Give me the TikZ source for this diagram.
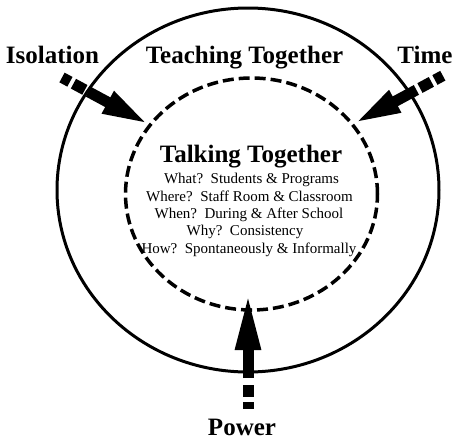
\documentclass[tikz,border=0pt]{standalone}
\usepackage{fontspec}
\setmainfont{Liberation Serif}
\usetikzlibrary{arrows.meta,calc}
\begin{document}
\begin{tikzpicture}[x=1pt,y=-1pt,
  lbl/.style={font=\fontsize{25}{30}\selectfont\bfseries, anchor=base, inner sep=0pt},
  info/.style={font=\fontsize{15}{18}\selectfont, anchor=base, inner sep=0pt},
  sideshaft/.style={line width=11pt, -{Triangle[length=48pt,width=22pt]}},
  botshaft/.style={line width=11pt, -{Triangle[length=58pt,width=23pt]}},
  sidetail/.style={line width=11pt, dash pattern=on 0pt off 4pt on 13pt off 4pt on 9pt off 60pt},
  bottail/.style={line width=11pt, dash pattern=on 0pt off 7pt on 12pt off 5pt on 7pt off 60pt},
  outerring/.style={line width=3pt},
  innerring/.style={line width=3.5pt, dash pattern=on 11pt off 5pt},
]
\useasboundingbox (0,0) rectangle (456,440);
% circles
\draw[outerring] (248,190) ellipse [x radius=191pt, y radius=182pt];
\draw[innerring] (251.5,194) ellipse [x radius=126pt, y radius=116pt];
% labels
\node[lbl] (iso) at (52.5,63) {Isolation};
\node[lbl] (teach) at (244.5,63) {Teaching Together};
\node[lbl] (time) at (425,63) {Time};
\node[lbl] (power) at (242,435) {Power};
\node[lbl] (talk) at (251,162) {Talking Together};
\node[info] (l1) at (251.5,183) {What?\ \ Students \& Programs};
\node[info] (l2) at (249.5,201) {Where?\ \ Staff Room \& Classroom};
\node[info] (l3) at (249,218) {When?\ \ During \& After School};
\node[info] (l4) at (245,235) {Why?\ \ Consistency};
\node[info] (l5) at (249,253) {How?\ \ Spontaneously \& Informally};
% arrow coordinates
\coordinate (isoT) at (62,77.5);
\coordinate (isoTip) at (150,125);
\coordinate (isoS) at ($(isoTip)!70pt!(isoT)$);
\coordinate (timeT) at (446,74);
\coordinate (timeTip) at (353,124);
\coordinate (timeS) at ($(timeTip)!72pt!(timeT)$);
\coordinate (powT) at (248,410);
\coordinate (powTip) at (248,292);
\coordinate (powS) at (248,378);
% arrows
\draw[sidetail] (isoS) -- (isoT);
\draw[sideshaft] (isoS) -- (isoTip);
\draw[sidetail] (timeS) -- (timeT);
\draw[sideshaft] (timeS) -- (timeTip);
\draw[bottail] (powS) -- (powT);
\draw[botshaft] (powS) -- (powTip);
\end{tikzpicture}
\end{document}
